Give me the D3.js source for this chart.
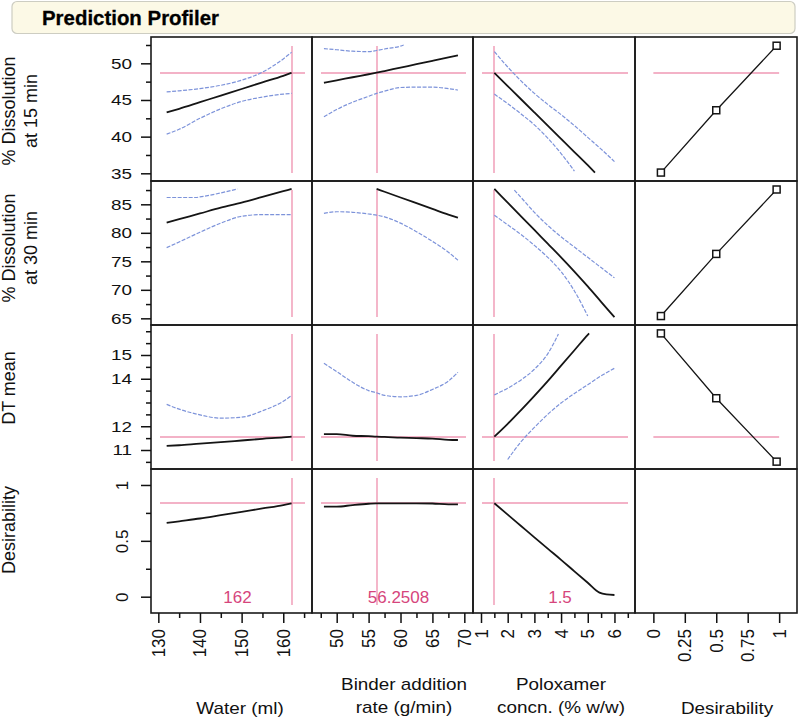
<!DOCTYPE html>
<html><head><meta charset="utf-8">
<script src="https://cdn.jsdelivr.net/npm/d3@7"></script>
<style>
body{margin:0;background:#fff}
svg{display:block}
text{font-family:"Liberation Sans",Arial,Helvetica,sans-serif}
</style>
</head><body>
<svg id="chart" width="799" height="721"></svg>
<script>
// ---------------- DATA ----------------
const chartTitle = "Prediction Profiler";
const factorTitles = [["Water (ml)"], ["Binder addition", "rate (g/min)"], ["Poloxamer", "concn. (% w/w)"], ["Desirability"]];
const responseTitles = [["% Dissolution", "at 15 min"], ["% Dissolution", "at 30 min"], ["DT mean"], ["Desirability"]];

const currentSettings = [162, 56.2508, 1.5];
const currentSettingLabels = ["162", "56.2508", "1.5"];
const currentPredictions = [48.7, 87.7, 11.56, 0.836];
const showPredictionLine = [true, false, true, true];

// axis ranges
const factorRanges = [[128.24, 166.9], [46.13, 71.36], [0.70, 6.77], [-0.146, 1.142]];
const responseRanges = [[33.95, 53.59], [63.83, 89.09], [10.2, 16.263], [-0.146, 1.143]];

// tick values
const waterTicks = [130, 140, 150, 160], waterMinor = [135, 145, 155, 165];
const binderTicks = [50, 55, 60, 65, 70], binderMinor = [47.5, 52.5, 57.5, 62.5, 67.5];
const poloxTicks = [1, 2, 3, 4, 5, 6], poloxMinor = [1.5, 2.5, 3.5, 4.5, 5.5, 6.5];
const desTicks = [0, 0.25, 0.5, 0.75, 1], desTickLabels = ["0", "0.25", "0.5", "0.75", "1"];
const d15Ticks = [35, 40, 45, 50], d15Minor = [37.5, 42.5, 47.5, 52.5];
const d30Ticks = [65, 70, 75, 80, 85], d30Minor = [67.5, 72.5, 77.5, 82.5, 87.5];
const dtTicks = [11, 12, 14, 15], dtMinor = [10.5, 11.5, 12.5, 13, 13.5, 14.5, 15.5, 16];
const dsTicks = [0, 0.5, 1], dsMinor = [0.25, 0.75];

// factor grids
const waterX = [132, 135, 140, 145, 150, 155, 160, 162];
const binderX = [48, 50, 52.5, 55, 56.25, 57.5, 60, 62.5, 65, 67.5, 69];
const poloxX = [1.5, 2, 2.5, 3, 3.5, 4, 4.5, 5, 5.5, 6];

// Row 1: % Dissolution at 15 min
const d15WaterPred = [43.3, 43.8, 44.7, 45.6, 46.5, 47.4, 48.3, 48.7];
const d15WaterUpper = [46.1, 46.25, 46.55, 47.0, 47.7, 48.8, 50.6, 51.5];
const d15WaterLower = [40.35, 41.0, 42.5, 43.8, 44.8, 45.4, 45.8, 45.9];
const d15BinderPred = [47.35, 47.68, 48.1, 48.51, 48.72, 48.95, 49.42, 49.88, 50.35, 50.82, 51.1];
const d15BinderUpperX = [48, 50, 52.5, 55, 56.25, 57.5, 60, 60.5];
const d15BinderUpper = [52.0, 51.85, 51.65, 51.6, 51.75, 51.95, 52.35, 52.5];
const d15BinderLower = [42.7, 43.7, 44.7, 45.5, 45.9, 46.2, 46.7, 46.75, 46.75, 46.55, 46.35];
const d15PoloxPredX = [1.5, 2, 2.5, 3, 3.5, 4, 4.5, 5, 5.27];
const d15PoloxPred = [48.7, 46.9, 45.1, 43.3, 41.5, 39.7, 37.9, 36.1, 35.1];
const d15PoloxUpper = [51.6, 49.5, 47.6, 45.9, 44.4, 43.0, 41.5, 39.9, 38.3, 36.6];
const d15PoloxLowerX = [1.5, 2, 2.5, 3, 3.5, 4, 4.5];
const d15PoloxLower = [45.8, 44.5, 43.1, 41.6, 39.8, 37.7, 35.3];

// Row 2: % Dissolution at 30 min
const d30WaterPred = [81.8, 82.4, 83.4, 84.4, 85.3, 86.3, 87.3, 87.7];
const d30WaterUpperX = [132, 135, 139, 140, 145, 149];
const d30WaterUpper = [86.2, 86.2, 86.2, 86.3, 87.0, 87.7];
const d30WaterLower = [77.4, 78.4, 80.1, 81.7, 82.9, 83.2, 83.2, 83.2];
const d30BinderPredX = [56.25, 57.5, 60, 62.5, 65, 67.5, 69];
const d30BinderPred = [87.7, 87.2, 86.2, 85.2, 84.2, 83.2, 82.65];
const d30BinderLower = [83.4, 83.7, 83.6, 83.3, 83.1, 82.8, 81.7, 80.2, 78.5, 76.6, 75.2];
const d30PoloxPred = [87.7, 85.3, 82.9, 80.5, 78.1, 75.7, 73.2, 70.6, 67.9, 65.2];
const d30PoloxUpperX = [2.25, 2.5, 3, 3.5, 4, 4.5, 5, 5.5, 6];
const d30PoloxUpper = [87.5, 86.2, 83.6, 81.3, 79.3, 77.5, 75.7, 73.9, 72.1];
const d30PoloxLowerX = [1.5, 2, 2.5, 3, 3.5, 4, 4.5, 5];
const d30PoloxLower = [83.1, 81.4, 79.7, 77.8, 75.7, 73.2, 69.8, 65.4];

// Row 3: DT mean
const dtWaterPred = [11.17, 11.2, 11.27, 11.33, 11.4, 11.47, 11.53, 11.56];
const dtWaterUpper = [12.92, 12.72, 12.48, 12.34, 12.38, 12.65, 13.05, 13.29];
const dtBinderPred = [11.67, 11.67, 11.6, 11.58, 11.56, 11.55, 11.52, 11.5, 11.48, 11.43, 11.42];
const dtBinderUpper = [14.65, 14.3, 13.85, 13.5, 13.41, 13.3, 13.24, 13.3, 13.55, 13.9, 14.27];
const dtPoloxPredX = [1.5, 2, 2.5, 3, 3.5, 4, 4.5, 5, 5.05];
const dtPoloxPred = [11.56, 12.1, 12.68, 13.28, 13.9, 14.55, 15.2, 15.85, 15.91];
const dtPoloxUpperX = [1.5, 2, 2.5, 3, 3.5, 3.9];
const dtPoloxUpper = [13.32, 13.6, 13.95, 14.4, 15.05, 15.88];
const dtPoloxLowerX = [2, 2.5, 3, 3.5, 4, 4.5, 5, 5.5, 6];
const dtPoloxLower = [10.6, 11.35, 11.95, 12.5, 12.98, 13.38, 13.75, 14.12, 14.44];

// Row 4: Desirability
const dsWaterPred = [0.66, 0.675, 0.70, 0.73, 0.76, 0.79, 0.82, 0.836];
const dsBinderPred = [0.806, 0.806, 0.82, 0.832, 0.836, 0.836, 0.836, 0.836, 0.834, 0.827, 0.827];
const dsPoloxPredX = [1.5, 2, 2.5, 3, 3.5, 4, 4.5, 5, 5.44, 5.7, 6];
const dsPoloxPred = [0.836, 0.735, 0.633, 0.531, 0.43, 0.33, 0.227, 0.125, 0.036, 0.02, 0.015];

// Desirability function control points
const desPointsX = [0.06, 0.5, 0.98];
const d15DesValues = [35.1, 43.6, 52.4];
const d30DesValues = [65.4, 76.3, 87.6];
const dtDesValues = [15.91, 13.18, 10.51];

// ---------------- LAYOUT ----------------
const colEdges = [151, 312, 473, 635, 797];
const rowEdges = [37, 181, 325, 469, 613];
const RED = "#ef98b4", BLUE = "#7d93da", BLACK = "#151515", RED_TEXT = "#d6457c";

const svg = d3.select("#chart");

// header
svg.append("rect").attr("x", 12).attr("y", 1.5).attr("width", 783).attr("height", 32)
  .attr("rx", 5).attr("fill", "#fcf9e6").attr("stroke", "#cdcdc2").attr("stroke-width", 1.2);
svg.append("text").attr("x", 42).attr("y", 25).attr("font-size", 20).attr("font-weight", "bold")
  .attr("textLength", 177).attr("lengthAdjust", "spacingAndGlyphs").attr("fill", "#000")
  .attr("stroke", "#000").attr("stroke-width", 0.3).text(chartTitle);

const xScales = factorRanges.map((r, i) => d3.scaleLinear().domain(r).range([colEdges[i], colEdges[i + 1]]));
const yScales = responseRanges.map((r, i) => d3.scaleLinear().domain(r).range([rowEdges[i + 1], rowEdges[i]]));

const curves = [
  // [row, col, xs, ys, kind]
  [0, 0, waterX, d15WaterUpper, "ci"], [0, 0, waterX, d15WaterLower, "ci"], [0, 0, waterX, d15WaterPred, "pred"],
  [0, 1, d15BinderUpperX, d15BinderUpper, "ci"], [0, 1, binderX, d15BinderLower, "ci"], [0, 1, binderX, d15BinderPred, "pred"],
  [0, 2, poloxX, d15PoloxUpper, "ci"], [0, 2, d15PoloxLowerX, d15PoloxLower, "ci"], [0, 2, d15PoloxPredX, d15PoloxPred, "pred"],
  [1, 0, d30WaterUpperX, d30WaterUpper, "ci"], [1, 0, waterX, d30WaterLower, "ci"], [1, 0, waterX, d30WaterPred, "pred"],
  [1, 1, binderX, d30BinderLower, "ci"], [1, 1, d30BinderPredX, d30BinderPred, "pred"],
  [1, 2, d30PoloxUpperX, d30PoloxUpper, "ci"], [1, 2, d30PoloxLowerX, d30PoloxLower, "ci"], [1, 2, poloxX, d30PoloxPred, "pred"],
  [2, 0, waterX, dtWaterUpper, "ci"], [2, 0, waterX, dtWaterPred, "pred"],
  [2, 1, binderX, dtBinderUpper, "ci"], [2, 1, binderX, dtBinderPred, "pred"],
  [2, 2, dtPoloxUpperX, dtPoloxUpper, "ci"], [2, 2, dtPoloxLowerX, dtPoloxLower, "ci"], [2, 2, dtPoloxPredX, dtPoloxPred, "pred"],
  [3, 0, waterX, dsWaterPred, "pred"], [3, 1, binderX, dsBinderPred, "pred"], [3, 2, dsPoloxPredX, dsPoloxPred, "pred"]
];
const desCurves = [[0, d15DesValues], [1, d30DesValues], [2, dtDesValues]];

// red reference lines
const refG = svg.append("g").attr("stroke", RED).attr("stroke-width", 1.4);
for (let r = 0; r < 4; r++) {
  for (let c = 0; c < 3; c++) {
    const x = Math.round(xScales[c](currentSettings[c]));
    refG.append("line").attr("x1", x).attr("x2", x).attr("y1", rowEdges[r] + 9).attr("y2", rowEdges[r + 1] - 8);
  }
  if (showPredictionLine[r]) {
    const y = Math.round(yScales[r](currentPredictions[r]));
    for (let c = 0; c < 3; c++) {
      refG.append("line").attr("x1", colEdges[c] + 9).attr("x2", colEdges[c + 1] - 7).attr("y1", y).attr("y2", y);
    }
    if (r < 3) {
      refG.append("line").attr("x1", xScales[3](0)).attr("x2", xScales[3](1)).attr("y1", y).attr("y2", y);
    }
  }
}

// curves
const curveG = svg.append("g");
curves.forEach(([r, c, xs, ys, kind]) => {
  const pts = xs.map((x, i) => [x, ys[i]]);
  const line = d3.line().curve(d3.curveMonotoneX).x(d => xScales[c](d[0])).y(d => yScales[r](d[1]));
  curveG.append("path").attr("d", line(pts)).attr("fill", "none")
    .attr("stroke", kind === "pred" ? BLACK : BLUE)
    .attr("stroke-width", kind === "pred" ? 1.8 : 1.2)
    .attr("stroke-dasharray", kind === "pred" ? null : "4,1.5");
});

// desirability functions
desCurves.forEach(([r, vals]) => {
  const pts = desPointsX.map((d, i) => [d, vals[i]]);
  const line = d3.line().x(d => xScales[3](d[0])).y(d => yScales[r](d[1]));
  curveG.append("path").attr("d", line(pts)).attr("fill", "none").attr("stroke", BLACK).attr("stroke-width", 1.3);
  curveG.selectAll(null).data(pts).join("rect")
    .attr("x", d => xScales[3](d[0]) - 3.5).attr("y", d => yScales[r](d[1]) - 3.5)
    .attr("width", 7).attr("height", 7).attr("fill", "#fff").attr("stroke", BLACK).attr("stroke-width", 1.5);
});

// panel frames
const frameG = svg.append("g");
for (let r = 0; r < 4; r++) for (let c = 0; c < 4; c++) {
  frameG.append("rect").attr("x", colEdges[c]).attr("y", rowEdges[r])
    .attr("width", colEdges[c + 1] - colEdges[c]).attr("height", rowEdges[r + 1] - rowEdges[r])
    .attr("fill", "none").attr("stroke", "#1a1a1a").attr("stroke-width", 1.6);
}

// current setting labels
currentSettingLabels.forEach((t, c) => {
  svg.append("text").attr("x", (colEdges[c] + colEdges[c + 1]) / 2 + 6).attr("y", 603)
    .attr("text-anchor", "middle").attr("font-size", 17).attr("fill", RED_TEXT).text(t);
});

// Y axes
const yTickSets = [[d15Ticks, d15Minor], [d30Ticks, d30Minor], [dtTicks, dtMinor], [dsTicks, dsMinor]];
yTickSets.forEach(([maj, min], r) => {
  const gMin = svg.append("g").attr("transform", `translate(${colEdges[0]},0)`)
    .call(d3.axisLeft(yScales[r]).tickValues(min).tickSize(5).tickFormat(""));
  const g = svg.append("g").attr("transform", `translate(${colEdges[0]},0)`)
    .call(d3.axisLeft(yScales[r]).tickValues(maj).tickSize(10).tickFormat(d3.format("")));
  [gMin, g].forEach(a => { a.select(".domain").remove(); a.selectAll("line").attr("stroke", "#111").attr("stroke-width", 1.5); });
  if (r < 3) {
    g.selectAll("text").attr("x", null).attr("dy", null).attr("fill", "#111")
      .attr("font-size", 14).attr("text-anchor", "end")
      .attr("transform", "translate(-19,5) scale(1.35,1)");
  } else {
    g.selectAll("text").attr("x", null).attr("dy", null).attr("fill", "#111")
      .attr("font-size", 17).attr("text-anchor", "middle")
      .attr("transform", "translate(-23,0) rotate(-90)");
  }
});

// X axes
const xTickSets = [[waterTicks, waterMinor, d3.format("")], [binderTicks, binderMinor, d3.format("")],
                   [poloxTicks, poloxMinor, d3.format("")], [desTicks, [], (d, i) => desTickLabels[i]]];
xTickSets.forEach(([maj, min, fmt], c) => {
  const bottom = rowEdges[4];
  if (min.length) {
    const gMin = svg.append("g").attr("transform", `translate(0,${bottom})`)
      .call(d3.axisBottom(xScales[c]).tickValues(min).tickSize(5).tickFormat(""));
    gMin.select(".domain").remove();
    gMin.selectAll("line").attr("stroke", "#111").attr("stroke-width", 1.5);
  }
  const g = svg.append("g").attr("transform", `translate(0,${bottom})`)
    .call(d3.axisBottom(xScales[c]).tickValues(maj).tickSize(10).tickFormat(fmt));
  g.select(".domain").remove();
  g.selectAll("line").attr("stroke", "#111").attr("stroke-width", 1.5);
  g.selectAll("text").attr("y", null).attr("dy", null).attr("fill", "#111")
    .attr("font-size", 17).attr("text-anchor", "end")
    .attr("transform", "translate(6,16) rotate(-90) scale(1,1.08)");
});

// factor titles
const factorTitleX = [240, 404, 561, 727];
factorTitles.forEach((lines, c) => {
  const ys = lines.length === 2 ? [690, 713] : [714];
  lines.forEach((t, i) => {
    svg.append("text").attr("font-size", 16).attr("text-anchor", "middle").attr("fill", "#111")
      .attr("transform", `translate(${factorTitleX[c]},${ys[i]}) scale(1.18,1)`).text(t);
  });
});

// response titles
const responseTitleY = [111, 248, 388, 530];
responseTitles.forEach((lines, r) => {
  const xs = lines.length === 2 ? [15, 37] : [15];
  lines.forEach((t, i) => {
    svg.append("text").attr("font-size", 18).attr("text-anchor", "middle").attr("fill", "#111")
      .attr("transform", `translate(${xs[i]},${responseTitleY[r]}) rotate(-90)`).text(t);
  });
});
</script>
</body></html>
